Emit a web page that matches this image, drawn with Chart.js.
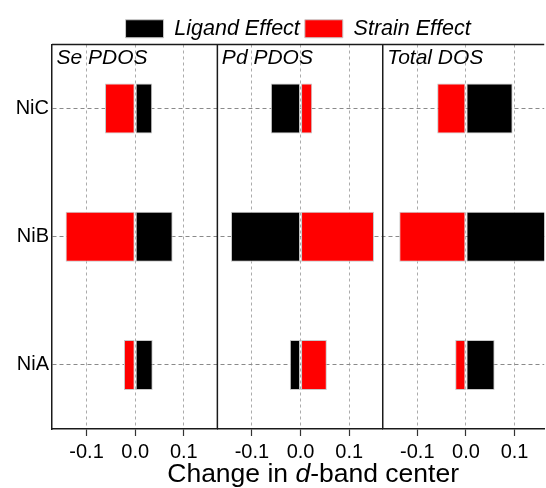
<!DOCTYPE html>
<html><head><meta charset="utf-8">
<script src="https://cdn.jsdelivr.net/npm/chart.js@4/dist/chart.umd.min.js"></script>
<style>html,body{margin:0;padding:0;background:#fff;}#wrap{width:546px;height:488px;}</style>
</head><body><div id="wrap"><canvas id="c" width="546" height="488"></canvas></div>
<script>
const categories = ['NiC', 'NiB', 'NiA'];
const panels = ['Se PDOS', 'Pd PDOS', 'Total DOS'];
const seriesNames = ['Ligand Effect', 'Strain Effect'];
const ligandSe = [0.035, 0.077, 0.036];
const strainSe = [-0.062, -0.143, -0.023];
const ligandPd = [-0.061, -0.143, -0.022];
const strainPd = [0.024, 0.151, 0.054];
const ligandTotal = [0.096, 0.200, 0.059];
const strainTotal = [-0.059, -0.137, -0.022];
const xTickValues = [-0.1, 0.0, 0.1];
const xTitleParts = ['Change in ', 'd', '-band center'];

const xMin = [-0.171, -0.171, -0.171];
const xMax = [0.169, 0.169, 0.161];
const FONT = '"Liberation Sans", Arial, Helvetica, sans-serif';
const BLACK = '#000000', RED = '#ff0000';

function xScale(i) {
  return {
    type: 'linear', position: 'bottom', stack: 'panels', stackWeight: xMax[i] - xMin[i],
    min: xMin[i], max: xMax[i],
    afterBuildTicks: s => { s.ticks = xTickValues.map(v => ({ value: v })); },
    ticks: { autoSkip: false, maxRotation: 0, padding: 4, color: '#000',
      font: { family: FONT, size: 20 },
      callback: v => (Math.abs(v) < 1e-9 ? 0 : v).toFixed(1) },
    grid: { color: '#ababab', lineWidth: 1, drawTicks: true, tickLength: 7, tickColor: '#333', tickWidth: 1.2 },
    border: { display: true, color: '#1a1a1a', width: 1.5, dash: [3, 3] }
  };
}

const seriesData = [
  [ligandSe, strainSe], [ligandPd, strainPd], [ligandTotal, strainTotal]
];
const datasets = [];
seriesData.forEach((pair, p) => {
  pair.forEach((vals, k) => {
    datasets.push({
      label: seriesNames[k], data: vals, xAxisID: 'x' + (p + 1), yAxisID: 'y',
      backgroundColor: k === 0 ? BLACK : RED, borderColor: '#c8c8c8', borderWidth: 1,
      borderSkipped: false, grouped: false, categoryPercentage: 1, barPercentage: 0.39
    });
  });
});

const framePlugin = {
  id: 'frame',
  afterDraw(chart) {
    const { ctx, chartArea: a } = chart;
    ctx.save();
    ctx.strokeStyle = '#1a1a1a'; ctx.lineWidth = 1.5; ctx.setLineDash([]);
    ctx.beginPath();
    ctx.moveTo(a.left, a.top); ctx.lineTo(a.right, a.top);
    ['x2', 'x3'].forEach(id => { const s = chart.scales[id]; ctx.moveTo(s.left, a.top); ctx.lineTo(s.left, a.bottom); });
    ctx.stroke();
    ctx.fillStyle = '#000'; ctx.textAlign = 'left'; ctx.textBaseline = 'alphabetic';
    ctx.font = 'italic 21px ' + FONT;
    panels.forEach((t, i) => { const s = chart.scales['x' + (i + 1)]; ctx.fillText(t, s.left + 4.5, a.top + 19); });
    const fonts = ['26.5px ' + FONT, 'italic 26.5px ' + FONT, '26.5px ' + FONT];
    const widths = xTitleParts.map((t, i) => { ctx.font = fonts[i]; return ctx.measureText(t).width; });
    const total = widths.reduce((s, w) => s + w, 0);
    let x = (a.left + a.right) / 2 + 15 - total / 2;
    const y = a.bottom + 53;
    xTitleParts.forEach((t, i) => { ctx.font = fonts[i]; ctx.fillText(t, x, y); x += widths[i]; });
    ctx.restore();
  }
};

new Chart(document.getElementById('c'), {
  type: 'bar',
  data: { labels: categories, datasets },
  options: {
    indexAxis: 'y', responsive: false, animation: false, devicePixelRatio: 1,
    layout: { padding: { top: 13, left: 0, right: 0, bottom: 20 } },
    scales: {
      x1: xScale(0), x2: xScale(1), x3: xScale(2),
      y: { type: 'category', labels: categories, offset: true,
        grid: { offset: false, color: '#8a8a8a', drawTicks: false },
        border: { display: true, color: '#1a1a1a', width: 1.5, dash: [4, 3] },
        ticks: { color: '#000', padding: 3, font: { family: FONT, size: 20 } },
        afterFit: s => { s.width = 52; } }
    },
    plugins: {
      tooltip: { enabled: false },
      legend: { position: 'top', fullSize: false, maxHeight: 31.5,
        labels: { boxWidth: 38, boxHeight: 18, padding: 5, color: '#000',
          font: { family: FONT, size: 21.5, style: 'italic' },
          filter: item => item.datasetIndex < 2 } }
    }
  },
  plugins: [framePlugin]
});
</script></body></html>
